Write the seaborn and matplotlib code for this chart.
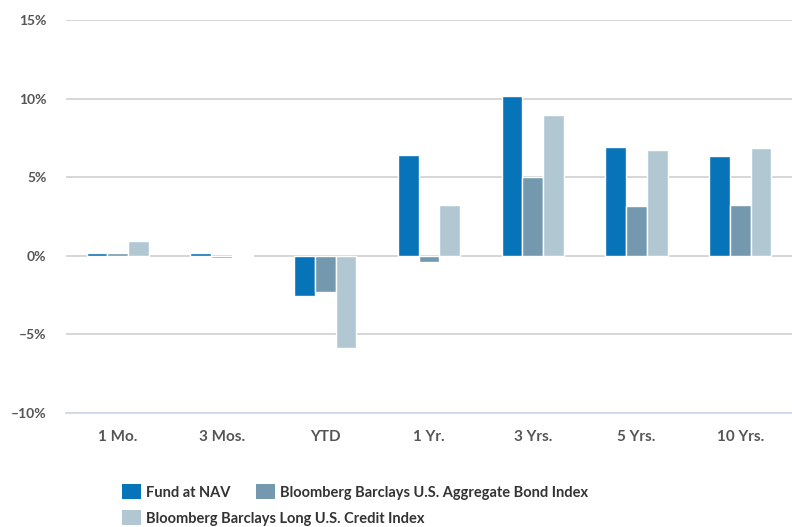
import matplotlib
matplotlib.use("Agg")
import matplotlib.pyplot as plt
from matplotlib.patches import Patch
from matplotlib.ticker import FixedLocator, FuncFormatter
import seaborn as sns
import pandas as pd

periods = ['1 Mo.', '3 Mos.', 'YTD', '1 Yr.', '3 Yrs.', '5 Yrs.', '10 Yrs.']
series = ['Fund at NAV', 'Bloomberg Barclays U.S. Aggregate Bond Index',
          'Bloomberg Barclays Long U.S. Credit Index']
fund = [0.19, 0.15, -2.55, 6.43, 10.19, 6.94, 6.35]
agg_bond = [0.2, -0.17, -2.3, -0.4, 4.99, 3.14, 3.23]
long_credit = [0.97, 0.02, -5.85, 3.23, 8.96, 6.71, 6.86]
colors = ['#0773b8', '#7499ae', '#b1c8d3']

sns.set_style("white")
plt.rcParams['font.family'] = ['Lato', 'DejaVu Sans']

df = pd.DataFrame({
    'Period': periods * 3,
    'Series': [series[0]] * 7 + [series[1]] * 7 + [series[2]] * 7,
    'Return': fund + agg_bond + long_credit,
})

fig = plt.figure(figsize=(7.92, 5.27), dpi=100)
ax = fig.add_axes([66 / 792, 114 / 527, 1 - 66 / 792, 393 / 527])

sns.barplot(data=df, x='Period', y='Return', hue='Series', order=periods,
            hue_order=series, palette=colors, width=0.6, gap=0,
            edgecolor='white', linewidth=1, saturation=1, ax=ax, legend=False)

ax.set_xlim(-0.5, len(periods) - 0.5)
ax.set_ylim(-10, 15)
ax.set_yticks([-10, -5, 0, 5, 10, 15])
ax.yaxis.set_major_formatter(FuncFormatter(lambda v, p: f"{v:.0f}%".replace('-', '\u2013')))
ax.set_axisbelow(True)
ax.yaxis.grid(True, color='#d0d0d0', linewidth=1.2)
ax.xaxis.grid(False)
for s in ['top', 'right', 'left']:
    ax.spines[s].set_visible(False)
ax.spines['bottom'].set_color('#ccd6eb')
ax.spines['bottom'].set_linewidth(1.2)

ax.set_xlabel('')
ax.set_ylabel('')
ax.tick_params(axis='y', length=0, pad=14, labelsize=10, labelcolor='#555555')
ax.tick_params(axis='x', which='major', length=0, pad=12, labelsize=11, labelcolor='#555555')
ax.xaxis.set_minor_locator(FixedLocator([i - 0.5 for i in range(len(periods) + 1)]))
ax.tick_params(axis='x', which='minor', length=7, width=1, color='#ccd6eb')
for lab in ax.get_xticklabels() + ax.get_yticklabels():
    lab.set_fontweight('bold')

handles = [Patch(facecolor=c, edgecolor='none') for c in colors]
leg_kw = dict(frameon=False, handlelength=1.3, handleheight=1.16,
              handletextpad=0.34, borderpad=0, borderaxespad=0, columnspacing=1.78,
              labelcolor='#333333', prop={'weight': 'bold', 'size': 10.5})
leg1 = fig.legend(handles[:2], series[:2], ncol=2, loc='center left',
                  bbox_to_anchor=(122 / 792, 35 / 527), **leg_kw)
leg2 = fig.legend(handles[2:], series[2:], ncol=1, loc='center left',
                  bbox_to_anchor=(122 / 792, 9 / 527), **leg_kw)

plt.savefig('out.png', dpi=100)
